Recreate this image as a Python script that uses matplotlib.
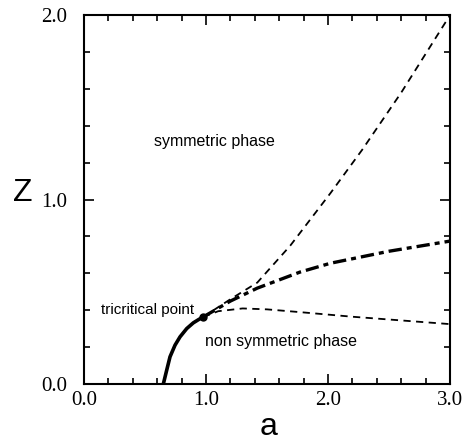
import matplotlib

matplotlib.use("Agg")
import matplotlib.pyplot as plt
from matplotlib.ticker import MultipleLocator, FormatStrFormatter

# second-order line up to the tricritical point
solid_a = [0.65, 0.678, 0.705, 0.746, 0.787, 0.842, 0.896, 0.94, 0.975]
solid_z = [0.0, 0.076, 0.148, 0.211, 0.256, 0.301, 0.332, 0.350, 0.363]

# upper spinodal (thin dashed)
upper_a = [0.975, 1.2, 1.42, 1.69, 2.02, 2.28, 2.6, 3.0]
upper_z = [0.363, 0.46, 0.55, 0.75, 1.035, 1.27, 1.58, 2.0]

# first-order line (thick dash-dot)
first_a = [0.975, 1.2, 1.42, 1.77, 2.02, 2.5, 3.0]
first_z = [0.363, 0.45, 0.52, 0.607, 0.655, 0.72, 0.775]

# lower spinodal (thin dashed)
lower_a = [0.975, 1.1, 1.3, 1.5, 1.77, 2.2, 2.6, 3.0]
lower_z = [0.363, 0.395, 0.41, 0.405, 0.39, 0.365, 0.345, 0.325]

tcp_a, tcp_z = 0.975, 0.363

fig = plt.figure(figsize=(4.64, 4.42), dpi=100)
ax = fig.add_axes([0.181, 0.131, 0.789, 0.835])

ax.plot(solid_a, solid_z, color="black", linewidth=2.6, solid_capstyle="butt")
ax.plot(upper_a, upper_z, color="black", linewidth=1.3, linestyle=(0, (4, 3)))
ax.plot(first_a, first_z, color="black", linewidth=2.4, linestyle=(0, (4, 1.5, 1.5, 1.5)))
ax.plot(lower_a, lower_z, color="black", linewidth=1.3, linestyle=(0, (4, 3)))
ax.plot([tcp_a], [tcp_z], "o", color="black", markersize=5)

sans = "Liberation Sans"
ax.text(1.066, 1.317, "symmetric phase", fontsize=11.5, family=sans, ha="center", va="center")
ax.text(0.52, 0.40, "tricritical point", fontsize=11, family=sans, ha="center", va="center")
ax.text(1.615, 0.233, "non symmetric phase", fontsize=11.5, family=sans, ha="center", va="center")

ax.set_xlim(0, 3)
ax.set_ylim(0, 2)
ax.xaxis.set_major_locator(MultipleLocator(1.0))
ax.xaxis.set_minor_locator(MultipleLocator(0.2))
ax.yaxis.set_major_locator(MultipleLocator(1.0))
ax.yaxis.set_minor_locator(MultipleLocator(0.2))
ax.xaxis.set_major_formatter(FormatStrFormatter("%.1f"))
ax.yaxis.set_major_formatter(FormatStrFormatter("%.1f"))
ax.tick_params(which="both", direction="in", top=True, right=True, width=1.2)
ax.tick_params(which="major", length=7)
ax.tick_params(axis="y", which="major", pad=12)
ax.tick_params(axis="x", which="major", pad=5)
ax.tick_params(which="minor", length=4)
for lab in ax.get_xticklabels() + ax.get_yticklabels():
    lab.set_family("Liberation Serif")
    lab.set_fontsize(15)
for spine in ax.spines.values():
    spine.set_linewidth(1.5)

ax.set_xlabel("a", fontsize=23, family=sans, va="baseline")
ax.xaxis.set_label_coords(0.503, -0.138)
ax.set_ylabel("Z", fontsize=23, family=sans, rotation=0, va="center")
ax.yaxis.set_label_coords(-0.168, 0.518)

fig.savefig("out.png", dpi=100)
